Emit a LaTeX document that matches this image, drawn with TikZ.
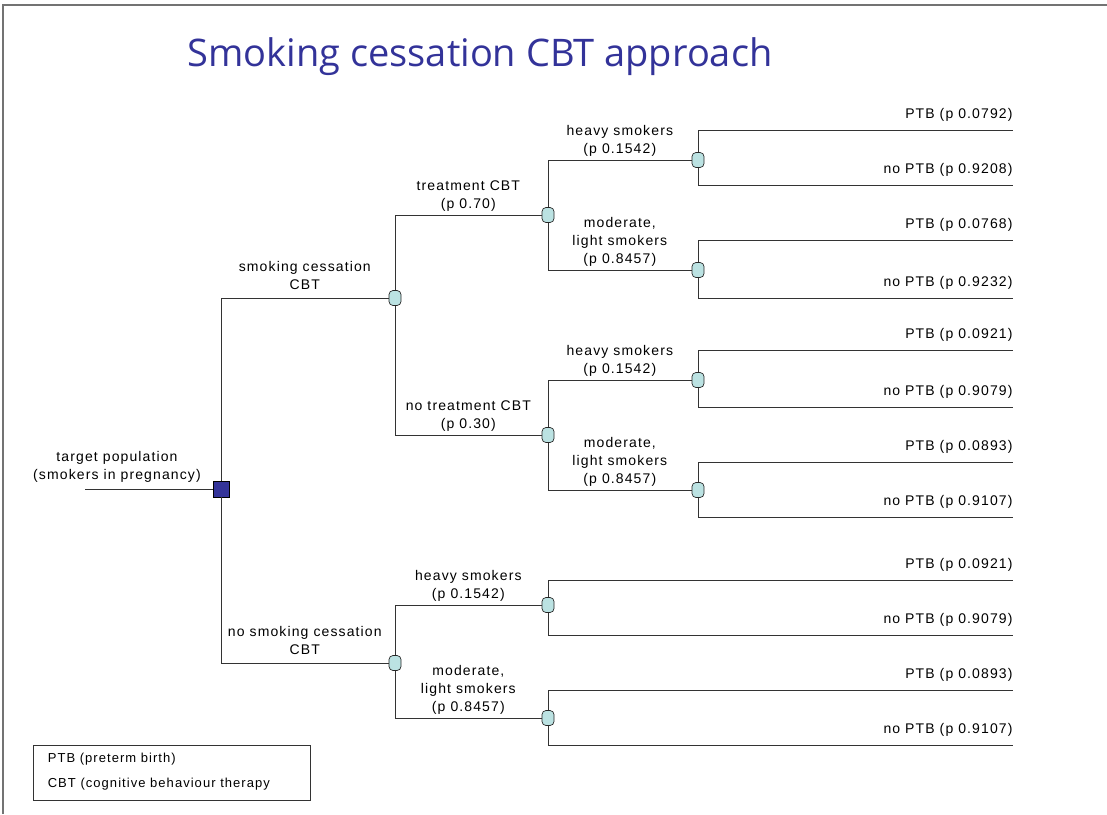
\documentclass[tikz,border=0pt]{standalone}
\usepackage{fontspec}
\setmainfont{Liberation Sans}[LetterSpace=8]
\newfontfamily\titlefont{Open Sans}
\usetikzlibrary{positioning}
\definecolor{chancefill}{RGB}{187,226,226}
\definecolor{decisionfill}{RGB}{51,51,153}
\definecolor{titleblue}{RGB}{51,51,153}

\begin{document}
\begin{tikzpicture}[x=1pt,y=-1pt,line width=1pt,draw=black!80,
                    font=\fontsize{14}{18}\selectfont]
  \tikzstyle{chance}=[rectangle,rounded corners=4pt,draw=black!85,fill=chancefill,
                      minimum width=12pt,minimum height=15pt,inner sep=0pt,line width=0.7pt]
  \tikzstyle{decision}=[rectangle,draw=black,fill=decisionfill,minimum size=16pt,
                        inner sep=0pt,line width=0.8pt]
  \tikzstyle{branch}=[above=3pt,align=center,inner sep=0pt]
  \tikzstyle{outcome}=[anchor=south east,inner sep=0pt,yshift=8pt]

  \useasboundingbox (0,0) rectangle (1107,814);
  \draw[black!55,line width=1.2pt] (3,814) -- (3,5) -- (1107,5);

  \node[text=titleblue,font=\titlefont\fontsize{38}{44}\selectfont] (title) at (480,57)
       {Smoking cessation CBT approach};

  % root
  \coordinate (start) at (85,489);
  \node[decision] (root) at (221,489) {};
  \node[align=center] (rootlbl) at (117,467) {target population\\(smokers in pregnancy)};

  % chance nodes
  \node[chance] (sc)   at (395,298) {};
  \node[chance] (nsc)  at (395,663) {};
  \node[chance] (tr)   at (548,215) {};
  \node[chance] (ntr)  at (548,435) {};
  \node[chance] (trh)  at (698,160) {};
  \node[chance] (trl)  at (698,270) {};
  \node[chance] (ntrh) at (698,380) {};
  \node[chance] (ntrl) at (698,490) {};
  \node[chance] (nsch) at (548,605) {};
  \node[chance] (nscl) at (548,718) {};

  % terminal ends
  \coordinate (trh-y)  at (1013,130);  \coordinate (trh-n)  at (1013,185);
  \coordinate (trl-y)  at (1013,240);  \coordinate (trl-n)  at (1013,298);
  \coordinate (ntrh-y) at (1013,350);  \coordinate (ntrh-n) at (1013,407);
  \coordinate (ntrl-y) at (1013,462);  \coordinate (ntrl-n) at (1013,517);
  \coordinate (nsch-y) at (1013,580);  \coordinate (nsch-n) at (1013,635);
  \coordinate (nscl-y) at (1013,690);  \coordinate (nscl-n) at (1013,745);

  \draw (start) -- (root);
  \draw (root) |- node[branch,pos=0.75,yshift=5pt] {smoking cessation\\CBT} (sc);
  \draw (root) |- node[branch,pos=0.75,yshift=5pt] {no smoking cessation\\CBT} (nsc);

  \draw (sc) |- node[branch,pos=0.75] {treatment CBT\\(p 0.70)} (tr);
  \draw (sc) |- node[branch,pos=0.75] {no treatment CBT\\(p 0.30)} (ntr);

  \draw (tr) |- node[branch,pos=0.75] {heavy smokers\\(p 0.1542)} (trh);
  \draw (tr) |- node[branch,pos=0.75] {moderate,\\light smokers\\(p 0.8457)} (trl);
  \draw (ntr) |- node[branch,pos=0.75] {heavy smokers\\(p 0.1542)} (ntrh);
  \draw (ntr) |- node[branch,pos=0.75] {moderate,\\light smokers\\(p 0.8457)} (ntrl);
  \draw (nsc) |- node[branch,pos=0.75] {heavy smokers\\(p 0.1542)} (nsch);
  \draw (nsc) |- node[branch,pos=0.75] {moderate,\\light smokers\\(p 0.8457)} (nscl);

  % outcomes
  \draw (trh) |- node[outcome,pos=1] {PTB (p 0.0792)} (trh-y);
  \draw (trh) |- node[outcome,pos=1] {no PTB (p 0.9208)} (trh-n);
  \draw (trl) |- node[outcome,pos=1] {PTB (p 0.0768)} (trl-y);
  \draw (trl) |- node[outcome,pos=1] {no PTB (p 0.9232)} (trl-n);
  \draw (ntrh) |- node[outcome,pos=1] {PTB (p 0.0921)} (ntrh-y);
  \draw (ntrh) |- node[outcome,pos=1] {no PTB (p 0.9079)} (ntrh-n);
  \draw (ntrl) |- node[outcome,pos=1] {PTB (p 0.0893)} (ntrl-y);
  \draw (ntrl) |- node[outcome,pos=1] {no PTB (p 0.9107)} (ntrl-n);
  \draw (nsch) |- node[outcome,pos=1] {PTB (p 0.0921)} (nsch-y);
  \draw (nsch) |- node[outcome,pos=1] {no PTB (p 0.9079)} (nsch-n);
  \draw (nscl) |- node[outcome,pos=1] {PTB (p 0.0893)} (nscl-y);
  \draw (nscl) |- node[outcome,pos=1] {no PTB (p 0.9107)} (nscl-n);

  % legend
  \node[draw=black!80,line width=0.7pt,anchor=north west,minimum width=277pt,
        minimum height=55pt] (legend) at (33,745) {};
  \node[anchor=west,font=\fontsize{13}{16}\selectfont] (legptb) at (44,759) {PTB (preterm birth)};
  \node[anchor=west,font=\fontsize{13}{16}\selectfont] (legcbt) at (44,784) {CBT (cognitive behaviour therapy};
\end{tikzpicture}
\end{document}
